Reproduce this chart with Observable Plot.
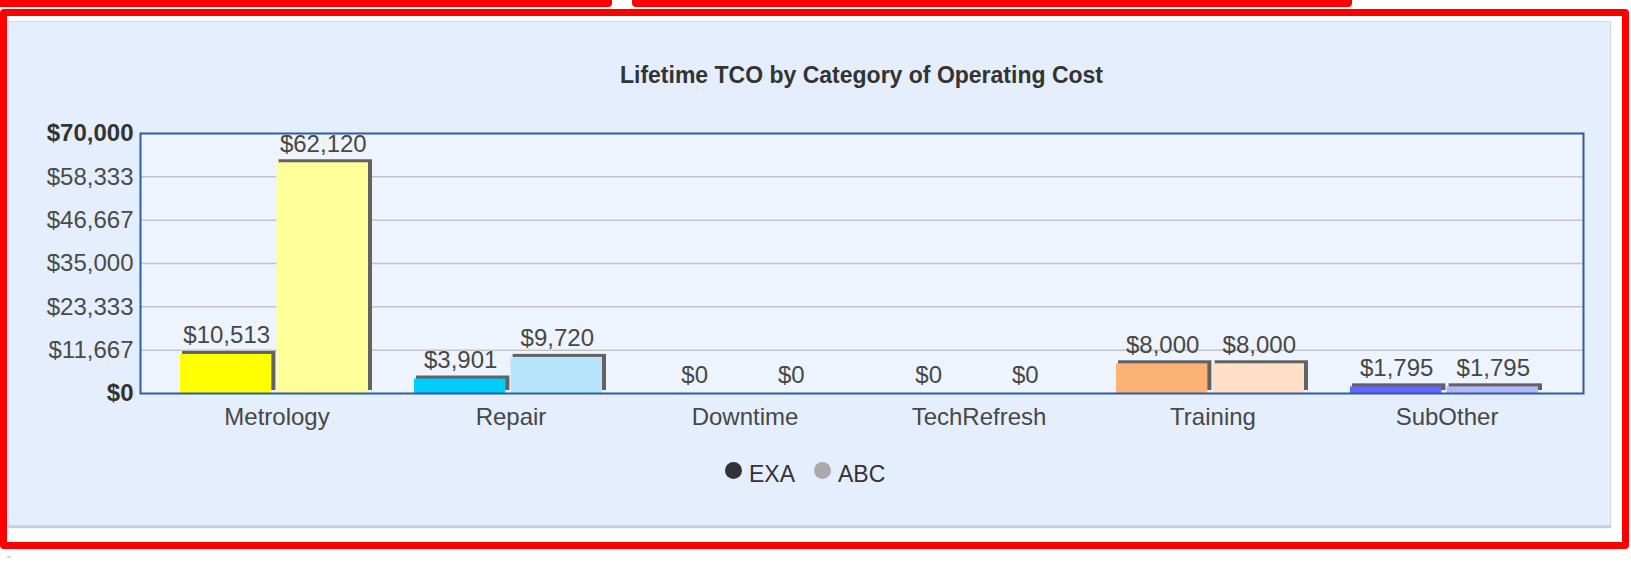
<!DOCTYPE html>
<html>
<head>
<meta charset="utf-8">
<script src="https://cdn.jsdelivr.net/npm/d3@7"></script>
<script src="https://cdn.jsdelivr.net/npm/@observablehq/plot@0.6"></script>
<style>
  html, body { margin: 0; padding: 0; background: #ffffff; }
  body { width: 1631px; height: 562px; position: relative; overflow: hidden; font-family: "Liberation Sans", Arial, sans-serif; }
  .abs { position: absolute; box-sizing: border-box; }
  .redbox { border: 7px solid #ff0000; border-radius: 4px; }
  #panel { left: 8px; top: 21px; width: 1603px; height: 505px; background: #e4eefc; border: 1px solid #d3d9e1; box-shadow: 0 2px 1px #c9ced6; }
  #title { left: 140px; width: 1443px; top: 60px; text-align: center; font-weight: bold; font-size: 23px; color: #333; line-height: 30px; }
  #chart { left: 0; top: 0; }
  .leg { position: absolute; top: 460px; height: 28px; display: flex; align-items: center; font-size: 23px; color: #333; }
  .leg span.dot { display: inline-block; width: 17px; height: 17px; border-radius: 50%; margin-right: 7px; }
</style>
</head>
<body>
<div class="abs redbox" style="left:-12px; top:-40px; width:624px; height:47px;"></div>
<div class="abs redbox" style="left:632px; top:-40px; width:720px; height:47px;"></div>
<div class="abs redbox" style="left:0px; top:9px; width:1629px; height:540px;"></div>
<div class="abs" id="panel"></div>
<div class="abs" style="left:7px; top:556px; width:4px; height:2px; background:#d8d8d8;"></div>
<div class="abs" id="title">Lifetime TCO by Category of Operating Cost</div>
<div class="abs" id="chart"></div>
<div id="legend"></div>
<script>
// ---- data ----
const categories = ["Metrology", "Repair", "Downtime", "TechRefresh", "Training", "SubOther"];
const exaValues = [10513, 3901, 0, 0, 8000, 1795];
const abcValues = [62120, 9720, 0, 0, 8000, 1795];
const exaColors = ["#ffff00", "#00ccff", "#9999dd", "#99cc99", "#fbb274", "#6666ff"];
const abcColors = ["#ffff99", "#b6e4fb", "#ccccee", "#cce6cc", "#ffdfc7", "#b6b6ff"];
const seriesNames = ["EXA", "ABC"];
const legendColors = ["#333333", "#aaaaaa"];
const yTicks = [0, 11667, 23333, 35000, 46667, 58333, 70000];
const yBoldTicks = [0, 70000];

const fmt = d3.format("$,.0f");
const rows = categories.map((c, i) => ({
  category: c, exa: exaValues[i], abc: abcValues[i], exaColor: exaColors[i], abcColor: abcColors[i]
}));

const half = 96.6; // half of band width
const shadow = "#626262";

const chart = Plot.plot({
  width: 1631, height: 562,
  marginTop: 133, marginBottom: 169, marginLeft: 140, marginRight: 48,
  style: { background: "transparent", fontFamily: "'Liberation Sans', Arial, sans-serif", overflow: "visible" },
  x: { domain: categories, inset: 39, paddingInner: 0.175, paddingOuter: 0, axis: null, label: null },
  y: { domain: [0, 70000], axis: null, label: null },
  color: { type: "identity" },
  marks: [
    Plot.frame({ fill: "#eef4fd", stroke: null }),
    Plot.gridY(yTicks.filter(t => !yBoldTicks.includes(t)), { stroke: "#c4c4c4", strokeOpacity: 1, strokeWidth: 1.5 }),
    // shadows
    Plot.barY(rows, { x: "category", y: "exa", fill: shadow, insetLeft: 2, insetRight: half + 1, dy: -3 }),
    Plot.barY(rows, { x: "category", y: "abc", fill: shadow, insetLeft: half + 2, insetRight: 1, dy: -3 }),
    // bars
    Plot.barY(rows, { x: "category", y: "exa", fill: "exaColor", insetLeft: 0, insetRight: half + 5 }),
    Plot.barY(rows, { x: "category", y: "abc", fill: "abcColor", insetLeft: half, insetRight: 5 }),
    // value labels
    Plot.text(rows, { x: "category", y: "exa", text: d => fmt(d.exa), dx: -half / 2 - 2, dy: -11, lineAnchor: "bottom", fontSize: 24, fill: "#474747" }),
    Plot.text(rows, { x: "category", y: "abc", text: d => fmt(d.abc), dx: half / 2 - 2, dy: -11, lineAnchor: "bottom", fontSize: 24, fill: "#474747" }),
    Plot.frame({ stroke: "#2d5f9e", strokeWidth: 2 }),
    // axes
    Plot.axisX({ tickSize: 0, tickPadding: 14, fontSize: 24, fill: "#474747", label: null }),
    Plot.axisY(yTicks.filter(t => !yBoldTicks.includes(t)), { tickSize: 0, tickPadding: 7, tickFormat: fmt, fontSize: 24, fill: "#4a4a4a", label: null }),
    Plot.axisY(yBoldTicks, { tickSize: 0, tickPadding: 7, tickFormat: fmt, fontSize: 24, fontWeight: "bold", fill: "#333333", label: null })
  ]
});
document.getElementById("chart").appendChild(chart);

// legend
const legend = document.getElementById("legend");
const legendX = [725, 814];
seriesNames.forEach((name, i) => {
  const el = document.createElement("div");
  el.className = "leg";
  el.style.left = legendX[i] + "px";
  const dot = document.createElement("span");
  dot.className = "dot";
  dot.style.background = legendColors[i];
  dot.style.transform = "translateY(-4px)";
  el.appendChild(dot);
  el.appendChild(document.createTextNode(name));
  legend.appendChild(el);
});
</script>
</body>
</html>
